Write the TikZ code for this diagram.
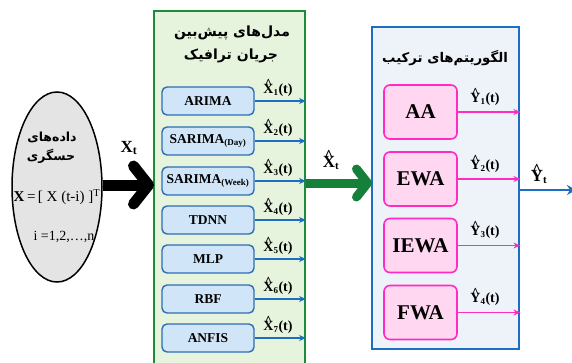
\documentclass[tikz,border=0pt]{standalone}
\usepackage{fontspec}
\usepackage{pdfrender}
\setmainfont{Liberation Serif}
\newfontfamily\fafont[Script=Arabic]{DejaVu Sans}
\TeXXeTstate=1
\usetikzlibrary{arrows.meta,shapes.geometric}

% Persian heavy text (filled and stroked), right to left
\newcommand\fatext[1]{\textpdfrender{TextRenderingMode=FillStroke,LineWidth=0.6pt}{\fafont\bfseries\beginR #1\endR}}
% a bold letter with a circumflex set above it
\newcommand\hatted[2]{\leavevmode\vbox{\offinterlineskip\halign{\hfil##\hfil\cr
  \bfseries\^{}\cr\noalign{\kern-#2}\bfseries #1\cr}}}
% estimate label: hatted letter, bold subscript, then (t)
\newcommand\est[2]{\hatted{#1}{0.33em}\textbf{\textsubscript{\fontsize{9}{9}\selectfont #2}(t)}}

\definecolor{grnline}{HTML}{1E8A3C}
\definecolor{grnfill}{HTML}{E7F4DD}
\definecolor{grnarrow}{HTML}{15803A}
\definecolor{blueline}{HTML}{1B6EC2}
\definecolor{bluefill}{HTML}{EEF2F9}
\definecolor{mdlline}{HTML}{2C6DB5}
\definecolor{mdlfill}{HTML}{D0E5F8}
\definecolor{pinkline}{HTML}{FF2BC2}
\definecolor{pinkfill}{HTML}{FFD7F0}
\definecolor{ellfill}{HTML}{E4E4E4}

\tikzset{
  model/.style={draw=mdlline, fill=mdlfill, line width=1.4pt, rounded corners=5pt,
    minimum width=92pt, minimum height=28pt, inner sep=0pt,
    font=\fontsize{13.5}{14}\selectfont\bfseries},
  combo/.style={draw=pinkline, fill=pinkfill, line width=1.6pt, rounded corners=6pt,
    minimum width=73pt, minimum height=54pt, inner sep=0pt,
    font=\fontsize{21}{22}\selectfont\bfseries},
  bluearr/.style={draw=blueline, line width=1.5pt, -{Stealth[length=7pt,width=6pt]}},
  pinkarr/.style={draw=pinkline, line width=1.5pt, -{Stealth[length=7pt,width=6pt]}},
  estlbl/.style={inner sep=0pt, font=\fontsize{14}{15}\selectfont},
  biglbl/.style={inner sep=0pt, font=\fontsize{17}{18}\selectfont\bfseries},
  fatitle/.style={inner sep=0pt, font=\fontsize{14}{15}\selectfont},
  fasmall/.style={inner sep=0pt, font=\fontsize{12.5}{13}\selectfont},
}

\begin{document}
\begin{tikzpicture}[x=1pt,y=-1pt]
\useasboundingbox (0,0) rectangle (572,362);

% sensor data
\node[ellipse, draw=black, line width=1.5pt, fill=ellfill,
      minimum width=90pt, minimum height=190pt, inner sep=0pt] (ell) at (57,187) {};
\node[fasmall] (d1) at (52,137) {\fatext{داده‌های}};
\node[fasmall] (d2) at (51,156) {\fatext{حسگری}};
\node[inner sep=0pt, font=\fontsize{15}{16}\selectfont] (d3) at (57,197)
  {\textbf{X}\,=\,[ X (t-i) ]\textsuperscript{T}};
\node[inner sep=0pt, font=\fontsize{14}{15}\selectfont] (d4) at (64,237) {i =1,2,\dots,n};

% forecasting models panel
\node[draw=grnline, fill=grnfill, line width=2pt, anchor=north west,
      minimum width=151pt, minimum height=362pt, inner sep=0pt] (gbox) at (153,10) {};
\node[fatitle] (gt1) at (232,33) {\fatext{مدل‌های پیش‌بین}};
\node[fatitle] (gt2) at (231,56) {\fatext{جریان ترافیک}};

\node[model] (m1) at (208,101) {ARIMA};
\node[model] (m2) at (208,141) {SARIMA\textsubscript{\fontsize{9}{9}\selectfont(Day)}};
\node[model] (m3) at (208,181) {SARIMA\textsubscript{\fontsize{9}{9}\selectfont(Week)}};
\node[model] (m4) at (208,220) {TDNN};
\node[model] (m5) at (208,259) {MLP};
\node[model] (m6) at (208,299) {RBF};
\node[model] (m7) at (208,338) {ANFIS};

\foreach \i/\y in {1/101,2/141,3/181,4/220,5/259,6/299,7/338}{
  \draw[bluearr] (m\i.east) -- (m\i.east -| gbox.east);
  \node[estlbl, anchor=base] (xl\i) at (278,\y-8) {\est{X}{\i}};
}

% combination panel
\node[draw=blueline, fill=bluefill, line width=2.4pt, anchor=north west,
      minimum width=147pt, minimum height=322pt, inner sep=0pt] (bbox) at (371,26) {};
\node[inner sep=0pt, font=\fontsize{13.3}{14}\selectfont] (bt) at (445,58) {\fatext{الگوریتم‌های ترکیب}};

\node[combo] (c1) at (420.5,112) {AA};
\node[combo] (c2) at (420.5,179) {EWA};
\node[combo] (c3) at (420.5,245.5) {IEWA};
\node[combo] (c4) at (420.5,312.5) {FWA};

\foreach \i/\y in {1/112,2/179,3/245.5,4/312.5}{
  \draw[pinkarr] (c\i.east) -- (c\i.east -| bbox.east);
  \node[estlbl, anchor=base] (yl\i) at (485,\y-10) {\est{Y}{\i}};
}

% input arrow
\coordinate (inpt) at (154,185);
\draw[line width=11pt, -{Straight Barb[round,length=15pt,width=38pt]}]
  (ell.east |- inpt) -- (inpt);
\node[biglbl] (xt) at (129,148) {X\textsubscript{t}};

% forecasts to combination
\coordinate (mid) at (372,183);
\draw[grnarrow, line width=9pt, -{Straight Barb[round,length=11pt,width=28pt]}]
  (mid -| gbox.east) -- (mid);
\node[biglbl, anchor=base] (xh) at (331,167) {\hatted{X}{0.33em}\textsubscript{\fontsize{11}{11}\selectfont t}};

% final output
\coordinate (out) at (576,190);
\draw[blueline, line width=2.4pt, -{Stealth[length=9pt,width=10pt]}] (out -| bbox.east) -- (out);
\node[biglbl, anchor=base] (yh) at (539,181) {\hatted{Y}{0.33em}\textsubscript{\fontsize{11}{11}\selectfont t}};
\end{tikzpicture}
\end{document}
